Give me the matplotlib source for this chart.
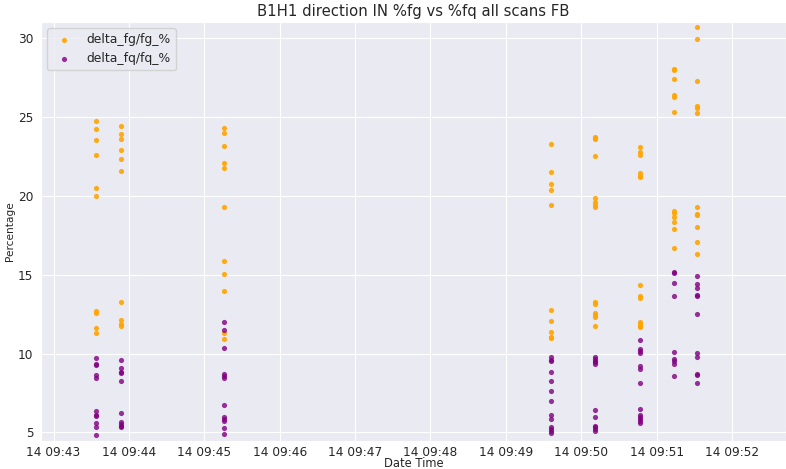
import pandas as pd
import matplotlib.pyplot as plt
import seaborn as sns

# Scan timestamps (one per scan)
scan_times = pd.to_datetime([
    "2023-06-14 09:43:34", "2023-06-14 09:43:54", "2023-06-14 09:45:16",
    "2023-06-14 09:49:36", "2023-06-14 09:50:11", "2023-06-14 09:50:47",
    "2023-06-14 09:51:14", "2023-06-14 09:51:32",
])

# delta_fg/fg_% values per scan
fg_values = [
    [24.77, 24.24, 23.56, 22.57, 20.51, 20.0, 12.68, 12.58, 11.62, 11.31],
    [24.41, 23.90, 23.58, 22.88, 22.35, 21.59, 13.25, 12.11, 11.85, 11.73],
    [24.32, 23.98, 23.18, 22.08, 21.76, 19.29, 15.86, 15.07, 13.95, 11.29, 10.93],
    [23.27, 21.52, 20.78, 20.37, 19.40, 12.76, 12.08, 11.36, 11.07, 10.96],
    [23.76, 23.68, 23.59, 22.51, 19.89, 19.59, 19.44, 19.32, 13.25, 13.12,
     12.55, 12.42, 12.29, 11.76],
    [23.12, 22.76, 22.57, 21.47, 21.28, 21.18, 14.37, 13.65, 13.52, 11.98,
     11.87, 11.76, 11.70],
    [28.03, 27.97, 27.44, 26.38, 26.28, 25.32, 19.02, 18.89, 18.64, 18.34,
     17.90, 16.71],
    [30.74, 29.92, 27.29, 25.68, 25.60, 25.28, 19.27, 18.83, 18.77, 18.05,
     17.07, 16.29],
]

# delta_fq/fq_% values per scan
fq_values = [
    [9.74, 9.32, 9.28, 8.64, 8.45, 6.33, 6.08, 6.04, 5.61, 5.32, 4.83],
    [9.59, 9.11, 8.81, 8.79, 8.24, 6.25, 5.66, 5.53, 5.42, 5.32],
    [12.03, 11.50, 10.35, 8.68, 8.58, 8.47, 6.76, 5.98, 5.83, 5.69, 5.25, 4.89],
    [9.76, 9.59, 9.52, 8.80, 8.23, 7.62, 7.00, 6.12, 5.82, 5.36, 5.21, 5.08, 4.97],
    [9.76, 9.65, 9.54, 9.44, 9.35, 6.43, 5.97, 5.42, 5.31, 5.21, 5.10],
    [10.85, 10.30, 10.18, 10.05, 9.18, 9.04, 8.15, 6.50, 6.12, 5.99, 5.86,
     5.73, 5.61],
    [15.19, 15.09, 14.45, 13.67, 10.11, 9.65, 9.52, 9.31, 8.57],
    [14.94, 14.41, 14.18, 13.69, 13.65, 12.53, 10.05, 9.76, 8.70, 8.65, 8.15],
]


def to_frame(times, values, name):
    """Flatten per-scan value lists into a long DataFrame."""
    rows = [(t, v) for t, vals in zip(times, values) for v in vals]
    return pd.DataFrame(rows, columns=["Date Time", name])


def main():
    sns.set_style("darkgrid")
    fg = to_frame(scan_times, fg_values, "delta_fg/fg_%")
    fq = to_frame(scan_times, fq_values, "delta_fq/fq_%")

    fig, ax = plt.subplots(figsize=(7.86, 4.69), dpi=100)
    fig.subplots_adjust(left=41 / 786, right=1.0, top=1 - 22 / 469,
                        bottom=1 - 440.7 / 469)

    ax.scatter(fg["Date Time"], fg["delta_fg/fg_%"], s=14, color="orange",
               alpha=0.9, linewidths=0, label="delta_fg/fg_%")
    ax.scatter(fq["Date Time"], fq["delta_fq/fq_%"], s=14, color="purple",
               alpha=0.8, linewidths=0, label="delta_fq/fq_%")

    ax.set_xlim(pd.Timestamp("2023-06-14 09:42:50"),
                pd.Timestamp("2023-06-14 09:52:43"))
    ax.set_ylim(4.47, 31.03)
    ax.set_yticks(range(5, 31, 5))
    ax.tick_params(axis="x", labelsize=8.7, pad=0)
    ax.tick_params(axis="y", labelsize=8.7, pad=2)

    ax.set_xlabel("Date Time", fontsize=8.3, labelpad=-1)
    ax.set_ylabel("Percentage", fontsize=7.6, labelpad=2)
    ax.set_title("B1H1 direction IN %fg vs %fq all scans FB", fontsize=10.7,
                 pad=4)
    ax.legend(loc="upper left", fontsize=8.9)

    fig.savefig("out.png", dpi=100)


if __name__ == "__main__":
    main()
